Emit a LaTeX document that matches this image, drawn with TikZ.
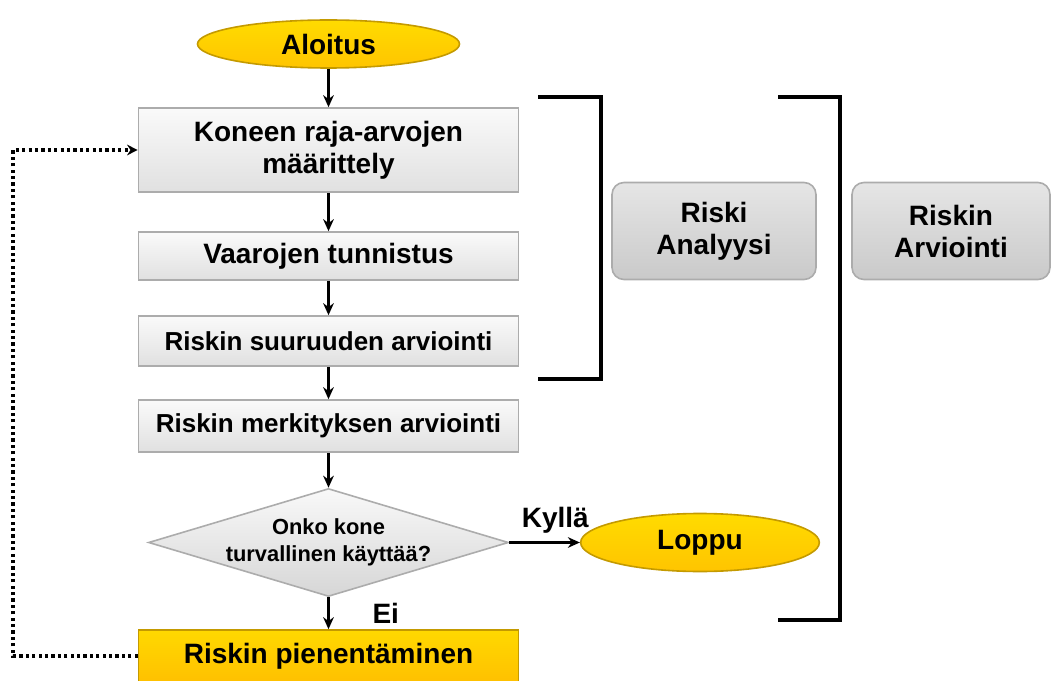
\documentclass[tikz,border=0pt]{standalone}
\usepackage{fontspec}
\setmainfont{Liberation Sans}
\usepackage{xcolor}
\usetikzlibrary{positioning,arrows.meta,shapes.geometric}
\definecolor{gold}{HTML}{FFCC00}
\definecolor{golddark}{HTML}{C49A00}
\begin{document}
\begin{tikzpicture}[x=0.75pt,y=-0.75pt,
  big/.style={font=\fontsize{21}{24}\selectfont\bfseries},
  stepbox/.style={big,draw=gray!65,line width=1.2pt,top color=gray!4,bottom color=gray!24,minimum width=285pt,align=center,inner sep=2pt},
  endpt/.style={big,ellipse,draw=golddark,line width=1.2pt,top color=gold!70!yellow,bottom color=gold!90!orange,inner sep=0pt},
  sidebox/.style={big,draw=gray!65,line width=1.2pt,rounded corners=9pt,top color=gray!20,bottom color=gray!42,minimum height=72.75pt,align=center,inner sep=2pt},
  brack/.style={line width=2.4pt},
  arr/.style={draw=black,line width=2pt,-{Stealth[length=9pt,width=8pt]}},
  backloop/.style={draw=black,line width=2.4pt,dash pattern=on 2.4pt off 2.4pt,-{Stealth[length=8pt,width=8pt]}},
  lab/.style={big,inner sep=2pt}]
\useasboundingbox (0,0) rectangle (1053,681);
\node[endpt,minimum width=196.5pt,minimum height=36pt] (start) at (328.5,44) {Aloitus};
\node[stepbox,minimum height=63pt] (def) at (328.5,150) {Koneen raja-arvojen\\määrittely};
\node[stepbox,minimum height=36pt] (haz) at (328.5,256) {Vaarojen tunnistus};
\node[stepbox,minimum height=37.5pt,font=\fontsize{19.5}{22}\selectfont\bfseries] (size) at (328.5,341) {Riskin suuruuden arviointi};
\node[stepbox,minimum height=39pt,font=\fontsize{19.5}{22}\selectfont\bfseries] (sig) at (328.5,426) {Riskin merkityksen arviointi};
\node[diamond,draw=gray!65,line width=1.2pt,top color=gray!5,bottom color=gray!32,minimum width=270pt,minimum height=81pt,inner sep=0pt] (safe) at (328.5,542.5) {};
\node[font=\fontsize{16.4}{20}\selectfont\bfseries,align=center] (safeq) at (safe) {Onko kone\\turvallinen käyttää?};
\node[endpt,minimum width=179pt,minimum height=43.5pt] (stop) at (700,542.5) {Loppu};
\node[stepbox,draw=golddark,top color=gold!75!yellow,bottom color=gold!85!orange,minimum height=39pt] (cut) at (328.5,656) {Riskin pienentäminen};
\node[sidebox,minimum width=153pt] (ana) at (714,231) {Riski\\Analyysi};
\node[sidebox,minimum width=148.5pt] (eval) at (951,231) {Riskin\\Arviointi};
\draw[arr] (start) -- (def);
\draw[arr] (def) -- (haz);
\draw[arr] (haz) -- (size);
\draw[arr] (size) -- (sig);
\draw[arr] (sig) -- (safe.north);
\draw[arr] (safe.east) -- node[lab,above,yshift=4pt,xshift=8pt] {Kyllä} (stop);
\draw[arr] (safe.south) -- node[lab,right,xshift=30pt] {Ei} (cut);
\coordinate (back) at (13,656);
\draw[backloop] (cut.west) -- (back) |- (def.west);
\draw[brack] (538,97) -- (601,97) -- (601,379) -- (538,379);
\draw[brack] (778,97) -- (840,97) -- (840,620) -- (778,620);
\end{tikzpicture}
\end{document}
